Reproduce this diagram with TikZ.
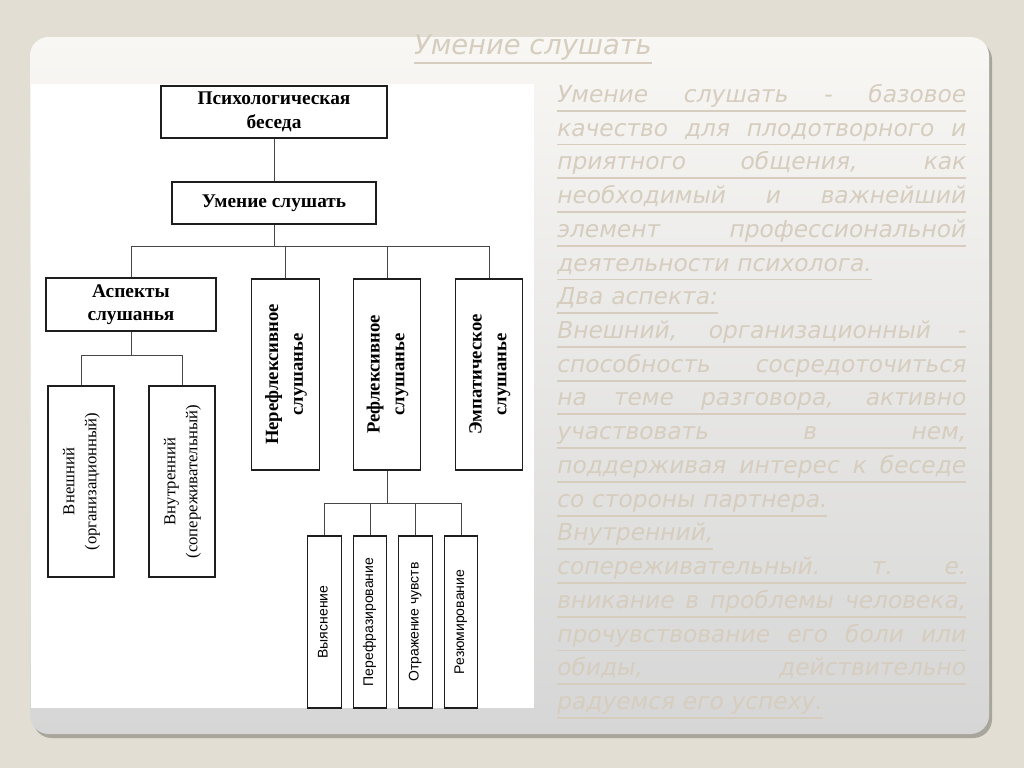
\documentclass[tikz,border=0pt]{standalone}
\usepackage{fontspec}
\usepackage{graphicx}
\usepackage{tikz}
\usetikzlibrary{positioning,calc}
\setmainfont{Liberation Serif}
\newfontfamily\boxsans{Liberation Sans}
\newfontfamily\slidefont{DejaVu Sans}
\definecolor{pagebg}{RGB}{227,222,212}
\definecolor{paneltop}{RGB}{248,247,244}
\definecolor{panelbottom}{RGB}{214,214,214}
\definecolor{panelshadow}{RGB}{168,166,156}
\definecolor{slidetext}{RGB}{214,205,190}
\definecolor{boxline}{RGB}{30,30,30}
\definecolor{linkgray}{RGB}{70,70,70}

\newlength\txtw
\setlength\txtw{306.75pt}
\newsavebox\lnbox
% justified line with an underline under its full width
\newcommand\jline[1]{{\spaceskip=0pt\xspaceskip=0pt\makebox[\txtw][s]{#1}}\llap{\rule[-7pt]{\txtw}{1.4pt}}}
% last line of a paragraph, underlined at its natural width
\newcommand\eline[1]{\sbox\lnbox{#1}\usebox\lnbox\llap{\rule[-7pt]{\wd\lnbox}{1.4pt}}}
% text turned to read upwards
\newcommand\vlab[1]{\rotatebox{90}{\begin{tabular}{@{}c@{}}#1\end{tabular}}}

\begin{document}
\begin{tikzpicture}[
    x=0.75pt, y=-0.75pt,
    box/.style={rectangle, draw=boxline, line width=0.8pt, fill=white, inner sep=1pt, align=center},
    headbox/.style={box, font=\bfseries\fontsize{14.5}{17.5}\selectfont},
    branch/.style={box, minimum width=50.5pt, minimum height=143.25pt, font=\bfseries\fontsize{14}{18.5}\selectfont},
    aspect/.style={box, minimum width=49.5pt, minimum height=143.25pt, font=\fontsize{12.5}{16.5}\selectfont},
    technique/.style={box, minimum width=25pt, minimum height=129pt, font=\boxsans\fontsize{10.5}{12}\selectfont},
    link/.style={draw=linkgray, line width=0.75pt}
]
    % slide background
    \fill[pagebg] (0,0) rectangle (1024,768);
    \fill[panelshadow, rounded corners=14pt] (33,41) rectangle (992,738);
    \shade[top color=paneltop, bottom color=panelbottom, rounded corners=14pt] (30,37) rectangle (989,734);
    \fill[white] (31,84) rectangle (534,708);

    % chart
    \node[headbox, minimum width=169.5pt, minimum height=39pt] (psy) at (274,112) {Психологическая\\беседа};
    \node[headbox, minimum width=153pt, minimum height=31.5pt] (listen) at (274,203) {Умение слушать};
    \node[headbox, minimum width=127.5pt, minimum height=39.75pt] (asp) at (131,304.5) {Аспекты\\слушанья};
    \node[branch] (nonrefl) at (285.5,374.5) {\vlab{Нерефлексивное\\слушанье}};
    \node[branch] (refl) at (387,374.5) {\vlab{Рефлексивное\\слушанье}};
    \node[branch] (empat) at (489,374.5) {\vlab{Эмпатическое\\слушанье}};
    \node[aspect] (outer) at (81,481.5) {\vlab{Внешний\\(организационный)}};
    \node[aspect] (inner) at (182,481.5) {\vlab{Внутренний\\(сопереживательный)}};
    \node[technique] (clarify) at (324.5,622) {\vlab{Выяснение}};
    \node[technique] (rephrase) at (370,622) {\vlab{Перефразирование}};
    \node[technique] (mirror) at (415.5,622) {\vlab{Отражение чувств}};
    \node[technique] (resume) at (461,622) {\vlab{Резюмирование}};

    \draw[link] (psy) -- (listen);
    \draw[link] (listen.south) -- ++(0,22) coordinate (bus);
    \draw[link] (asp.north) |- (bus) -| (empat.north);
    \draw[link] (nonrefl.north) |- (bus);
    \draw[link] (refl.north) |- (bus);
    \draw[link] (asp.south) -- ++(0,24) coordinate (aspbus);
    \draw[link] (outer.north) |- (aspbus) -| (inner.north);
    \draw[link] (refl.south) -- ++(0,33) coordinate (reflbus);
    \draw[link] (clarify.north) |- (reflbus) -| (resume.north);
    \draw[link] (rephrase.north) |- (reflbus);
    \draw[link] (mirror.north) |- (reflbus);

    % slide text
    \node[text=slidetext, inner sep=0pt, font=\slidefont\itshape\fontsize{20.5}{24}\selectfont] (title) at (533,49) {\eline{Умение слушать}};
    \node[anchor=north west, inner sep=0pt, text width=\txtw, align=left, text=slidetext,
          font=\slidefont\itshape\fontsize{17.5}{25.3}\selectfont] (about) at (557,84) {%
        \jline{Умение слушать - базовое}\\
        \jline{качество для плодотворного и}\\
        \jline{приятного общения, как}\\
        \jline{необходимый и важнейший}\\
        \jline{элемент профессиональной}\\
        \eline{деятельности психолога.}\\
        \eline{Два аспекта:}\\
        \jline{Внешний, организационный -}\\
        \jline{способность сосредоточиться}\\
        \jline{на теме разговора, активно}\\
        \jline{участвовать в нем,}\\
        \jline{поддерживая интерес к беседе}\\
        \eline{со стороны партнера.}\\
        \eline{Внутренний,}\\
        \jline{сопереживательный. т. е.}\\
        \jline{вникание в проблемы человека,}\\
        \jline{прочувствование его боли или}\\
        \jline{обиды, действительно}\\
        \eline{радуемся его успеху.}};
\end{tikzpicture}
\end{document}
